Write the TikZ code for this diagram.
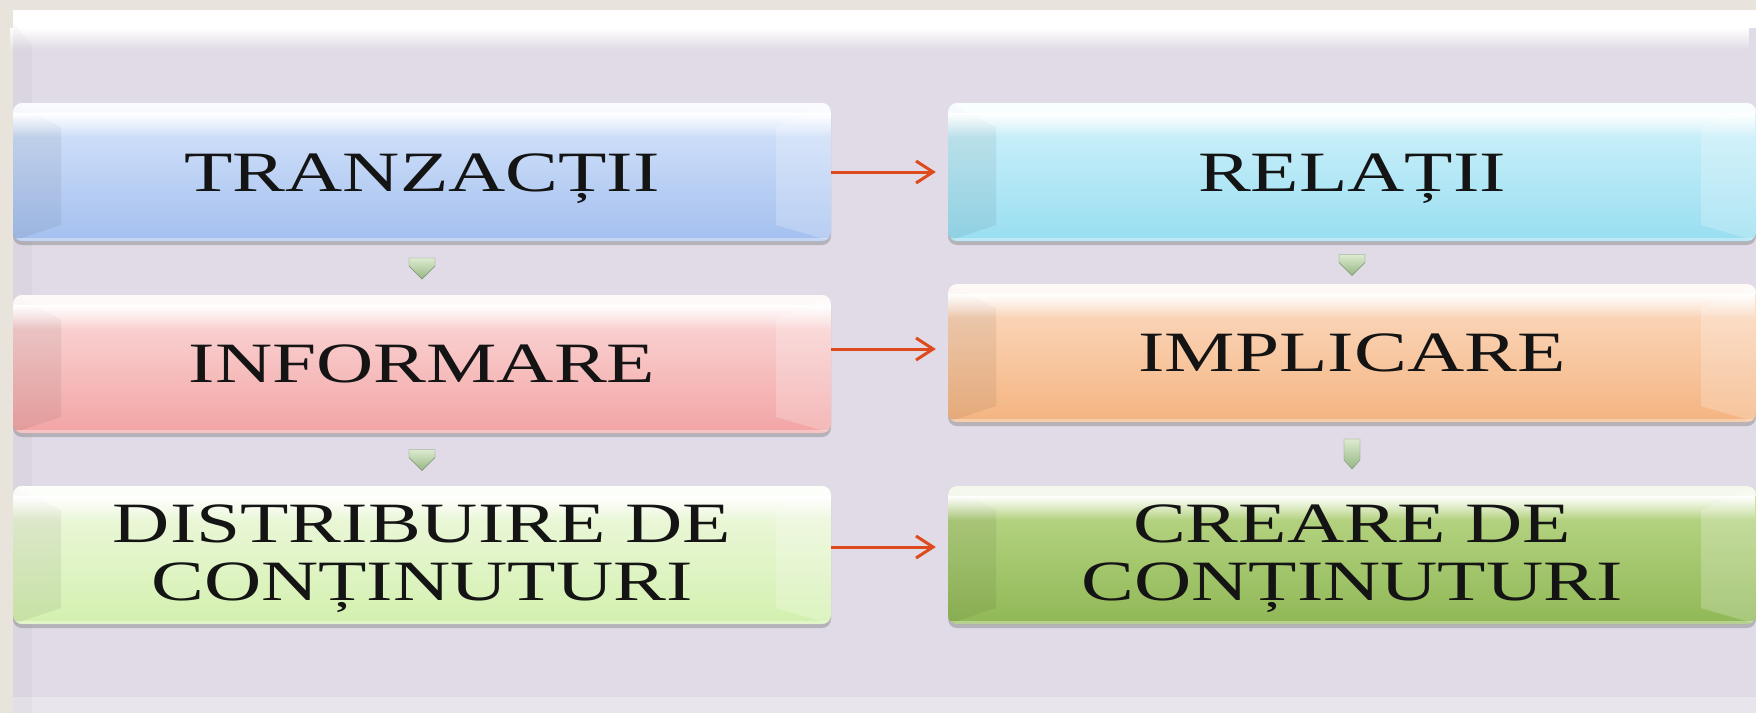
\documentclass[tikz,border=0pt]{standalone}
\usepackage{fontspec}
\setmainfont{Liberation Serif}
\usetikzlibrary{arrows.meta,shadows,fadings,calc}
\definecolor{outerbg}{HTML}{E8E4DC}
\definecolor{panelbg}{HTML}{E0DBE6}
\definecolor{txtcol}{HTML}{141414}
\definecolor{arrcol}{HTML}{DF4A1C}
\definecolor{blueT}{HTML}{D8E6FB}\definecolor{blueB}{HTML}{A4C0EF}
\definecolor{cyanT}{HTML}{D4F3FB}\definecolor{cyanB}{HTML}{98DEF1}
\definecolor{pinkT}{HTML}{FCDDDD}\definecolor{pinkB}{HTML}{F2A4A4}
\definecolor{oranT}{HTML}{FCDDC6}\definecolor{oranB}{HTML}{F4B480}
\definecolor{lgrnT}{HTML}{F1F9E4}\definecolor{lgrnB}{HTML}{D3F0AE}
\definecolor{dgrnT}{HTML}{BEDA8C}\definecolor{dgrnB}{HTML}{90B856}
\definecolor{chevT}{HTML}{DDEBD0}\definecolor{chevB}{HTML}{96B683}
\newcommand{\bxt}[1]{\scalebox{1.39}[1]{\fontsize{57}{58}\selectfont #1}}
\begin{document}
\begin{tikzpicture}[x=1pt,y=-1pt,
  gbox/.style n args={2}{draw=none, rounded corners=9pt, inner sep=0pt,
    minimum height=138pt, top color=#1, bottom color=#2,
    drop shadow={shadow xshift=0pt, shadow yshift=-4pt, opacity=0.35, fill=black!60},
    path picture={
      \begin{scope}[sharp corners]
      \fill[black, opacity=0.06] (path picture bounding box.north west) -- ([xshift=48pt,yshift=-24pt]path picture bounding box.north west)
        -- ([xshift=48pt,yshift=16pt]path picture bounding box.south west) -- (path picture bounding box.south west) -- cycle;
      \fill[white, opacity=0.22] (path picture bounding box.north east) -- ([xshift=-55pt,yshift=-24pt]path picture bounding box.north east)
        -- ([xshift=-55pt,yshift=16pt]path picture bounding box.south east) -- (path picture bounding box.south east) -- cycle;
      \fill[white, opacity=0.85] (path picture bounding box.north west) rectangle ([yshift=-10pt]path picture bounding box.north east);
      \fill[white, path fading=south] ([yshift=-10pt]path picture bounding box.north west) rectangle ([yshift=-34pt]path picture bounding box.north east);
      \fill[white, opacity=0.35] ([yshift=3pt]path picture bounding box.south west) rectangle (path picture bounding box.south east);
      \end{scope}
    }},
  lcol/.style={minimum width=818pt},
  rcol/.style={minimum width=808pt},
  lbl/.style={anchor=base, inner sep=0pt, text=txtcol},
  conn/.style={draw=arrcol, line width=3pt, -{Straight Barb[length=17pt,width=22pt,line width=3pt]}, shorten >=12pt},
  chev/.pic={\shade[top color=chevT, bottom color=chevB, draw=chevB!80!black, line width=0.4pt]
      (-13,-10) -- (13,-10) -- (13,-2) -- (0,11) -- (-13,-2) -- cycle;},
  tallchev/.pic={\shade[top color=chevT, bottom color=chevB, draw=chevB!80!black, line width=0.4pt]
      (-8,-15) -- (8,-15) -- (8,6) -- (0,15) -- (-8,6) -- cycle;}
]
\useasboundingbox (0,0) rectangle (1756,713);
% background
\fill[outerbg] (0,0) rectangle (1756,713);
\fill[panelbg] (13,10) rectangle (1756,713);
\fill[white] (13,10) rectangle (1756,28);
\fill[white, path fading=south] (13,28) rectangle (1756,50);
\fill[white, opacity=0.3] (13,697) rectangle (1756,713);
\fill[black, opacity=0.025] (13,22) -- (32,45) -- (32,713) -- (13,713) -- cycle;

% boxes
\node[gbox={blueT}{blueB}, lcol] (L1) at (422,172) {};
\node[gbox={cyanT}{cyanB}, rcol] (R1) at (1352,172) {};
\node[gbox={pinkT}{pinkB}, lcol] (L2) at (422,364) {};
\node[gbox={oranT}{oranB}, rcol] (R2) at (1352,353) {};
\node[gbox={lgrnT}{lgrnB}, lcol] (L3) at (422,555) {};
\node[gbox={dgrnT}{dgrnB}, rcol] (R3) at (1352,555) {};

% labels
\node[lbl] (tL1) at (422,191) {\bxt{TRANZACȚII}};
\node[lbl] (tR1) at (1352,191) {\bxt{RELAȚII}};
\node[lbl] (tL2) at (422,382) {\bxt{INFORMARE}};
\node[lbl] (tR2) at (1352,371) {\bxt{IMPLICARE}};
\node[lbl] (tL3) at (422,542) {\bxt{\begin{tabular}[t]{@{}c@{}}DISTRIBUIRE DE\\CONȚINUTURI\end{tabular}}};
\node[lbl] (tR3) at (1352,542) {\bxt{\begin{tabular}[t]{@{}c@{}}CREARE DE\\CONȚINUTURI\end{tabular}}};

% horizontal connectors
\draw[conn] (L1.east) -- (R1.west);
\draw[conn] ([yshift=4pt]L2.east |- R2.west) -- ([yshift=4pt]R2.west);
\draw[conn] ([yshift=8pt]L3.east) -- ([yshift=8pt]R3.west);

% vertical chevrons
\path (L1.south) -- (L2.north) coordinate[midway] (mL1);
\path (L2.south) -- (L3.north) coordinate[midway] (mL2);
\path (R1.south) -- (R2.north) coordinate[midway] (mR1);
\path (R2.south) -- (R3.north) coordinate[midway] (mR2);
\pic at (mL1) {chev};
\pic at (mL2) {chev};
\pic at ([yshift=-2pt]mR1) {chev};
\pic at (mR2) {tallchev};
\end{tikzpicture}
\end{document}
